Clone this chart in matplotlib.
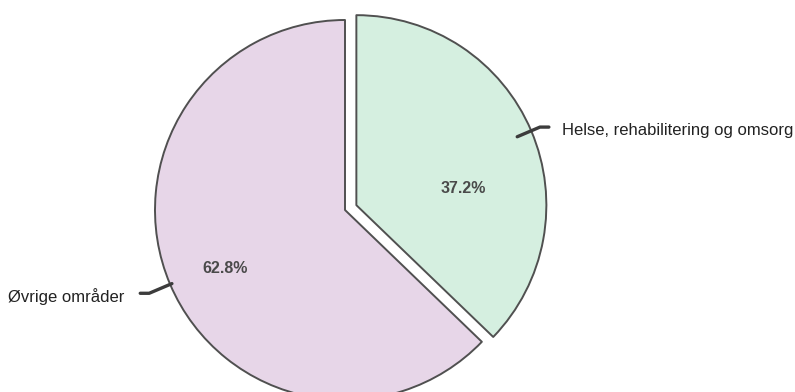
import numpy as np
import matplotlib
matplotlib.use("Agg")
import matplotlib.pyplot as plt

plt.rcParams['font.family'] = ['Liberation Sans', 'DejaVu Sans']

labels = ["Helse, rehabilitering og omsorg", "Øvrige områder"]
shares = [37.2, 62.8]
colors = ["#d5efe0", "#e7d6e8"]
explode = [0.065, 0.0]

W, H = 795, 392
cx, cy = 345, 210   # pie centre in px (from top-left)
R = 190.0           # radius in px

# percentage label placement (radius fraction, angle in deg) per wedge
pct_pos = [(0.57, 9), (0.70, -154)]
# leader line inner / outer radius per wedge
leader_r = [(0.92, 1.05), (0.99, 1.12)]

fig = plt.figure(figsize=(W / 100, H / 100), dpi=100)
ax = fig.add_axes([0, 0, 1, 1])

wedges, _ = ax.pie(shares, colors=colors, explode=explode, startangle=90,
                   counterclock=False, radius=1.0, center=(0, 0),
                   wedgeprops=dict(edgecolor='#505050', linewidth=1.4,
                                   joinstyle='round'))
ax.set_xlim(-cx / R, (W - cx) / R)
ax.set_ylim(-(H - cy) / R, cy / R)
ax.set_aspect('equal', adjustable='datalim')
ax.set_position([0, 0, 1, 1])
ax.axis('off')

start = 90.0
for w, lab, val, ex, (pr, pa), (r0, r1) in zip(wedges, labels, shares,
                                                explode, pct_pos, leader_r):
    span = val / 100 * 360
    mid = np.deg2rad(start - span / 2)
    start -= span
    dx, dy = np.cos(mid), np.sin(mid)
    ox, oy = ex * dx, ex * dy
    pa = np.deg2rad(pa)
    ax.text(ox + pr * np.cos(pa), oy + pr * np.sin(pa), f"{val:.1f}%",
            ha='center', va='center', fontsize=11.5, fontweight='bold',
            color='#4a4a4a')
    # leader line
    p0 = (ox + r0 * dx, oy + r0 * dy)
    p1 = (ox + r1 * dx, oy + r1 * dy)
    side = 1 if dx > 0 else -1
    p2 = (p1[0] + side * 0.047, p1[1])
    ax.plot([p0[0], p1[0], p2[0]], [p0[1], p1[1], p2[1]], color='#3c3c3c',
            lw=2.4, solid_capstyle='round', solid_joinstyle='round')
    ax.text(p2[0] + side * (0.068 if side > 0 else 0.084), p2[1] - 0.018, lab,
            ha='left' if side > 0 else 'right',
            va='center', fontsize=12, color='#222222')

fig.savefig("out.png", dpi=100, facecolor='white')
